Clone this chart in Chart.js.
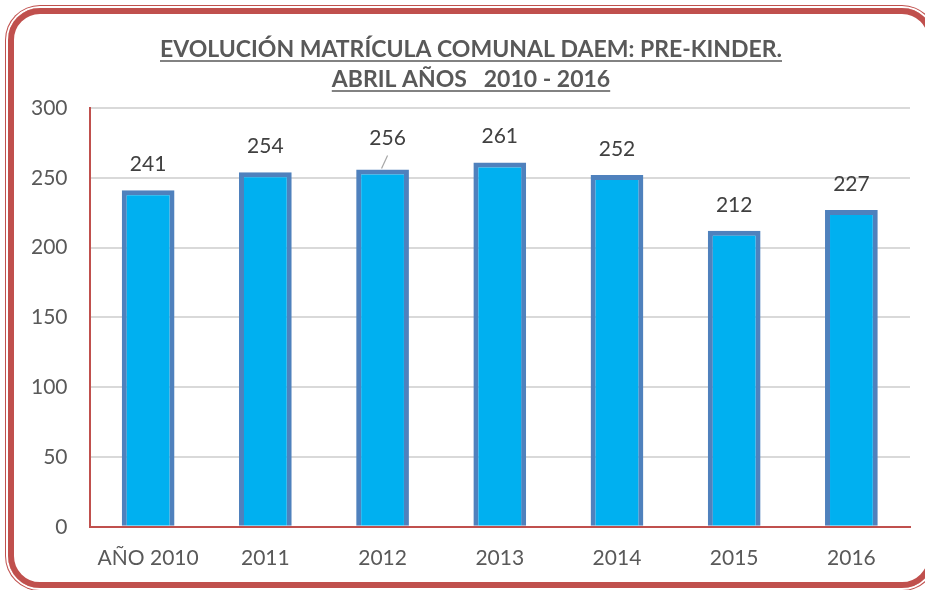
<!DOCTYPE html>
<html>
<head>
<meta charset="utf-8">
<script src="https://cdn.jsdelivr.net/npm/chart.js@4.4.1/dist/chart.umd.min.js"></script>
<style>
  html, body { margin: 0; padding: 0; background: #fff; overflow: hidden; }
  #wrap { position: relative; width: 925px; height: 590px; }
  #frame {
    position: absolute; left: 8px; top: 8px; width: 914px; height: 568px;
    border: 6px solid #C0504D; border-radius: 32px;
    box-shadow: 0 0 0 2px #fff, 0 0 0 3px #C0504D;
  }
  canvas { position: absolute; left: 0; top: 0; }
</style>
</head>
<body>
<div id="wrap">
  <div id="frame"></div>
  <canvas id="chart" width="925" height="590"></canvas>
</div>
<script>
// datos
const categories = ["AÑO 2010", "2011", "2012", "2013", "2014", "2015", "2016"];
const matricula = [241, 254, 256, 261, 252, 212, 227];
const yTicks = [0, 50, 100, 150, 200, 250, 300];
const titleLines = ["EVOLUCIÓN MATRÍCULA COMUNAL DAEM: PRE-KINDER.", "ABRIL AÑOS   2010 - 2016"];

const FONT = "Lato, 'Open Sans', sans-serif";

// titulo subrayado
const underlinedTitle = {
  id: 'underlinedTitle',
  afterDraw(chart) {
    const c = chart.ctx;
    c.save();
    c.font = "bold 23px " + FONT;
    c.fillStyle = '#595959';
    c.strokeStyle = '#595959';
    c.lineWidth = 1.5;
    c.textAlign = 'center';
    c.textBaseline = 'alphabetic';
    const cx = 471;
    const ys = [57, 87];
    titleLines.forEach((t, i) => {
      c.fillText(t, cx, ys[i]);
      const w = c.measureText(t).width;
      c.beginPath();
      c.moveTo(cx - w / 2, ys[i] + 4);
      c.lineTo(cx + w / 2, ys[i] + 4);
      c.stroke();
    });
    c.restore();
  }
};

// etiquetas de datos
const dataLabels = {
  id: 'dataLabels',
  afterDatasetsDraw(chart) {
    const c = chart.ctx;
    const meta = chart.getDatasetMeta(0);
    c.save();
    c.font = "21px " + FONT;
    c.fillStyle = '#404040';
    c.textAlign = 'center';
    c.textBaseline = 'middle';
    meta.data.forEach((bar, i) => {
      let x = bar.x;
      let y = bar.y - 26;
      if (i === 2) {
        // etiqueta con linea guia
        x = bar.x + 5;
        y = bar.y - 31;
        c.strokeStyle = '#A6A6A6';
        c.lineWidth = 1.2;
        c.beginPath();
        c.moveTo(bar.x + 5, bar.y - 14);
        c.lineTo(bar.x - 1, bar.y - 1);
        c.stroke();
      }
      c.fillText(matricula[i], x, y);
    });
    c.restore();
  }
};

const ctx = document.getElementById('chart').getContext('2d');
const chart = new Chart(ctx, {
  type: 'bar',
  data: {
    labels: categories,
    datasets: [{
      data: matricula,
      backgroundColor: '#00B0F0',
      borderColor: '#4F81BD',
      borderWidth: 5,
      barPercentage: 0.45,
      categoryPercentage: 1
    }]
  },
  options: {
    responsive: false,
    animation: false,
    layout: { padding: { top: 108, left: 9, right: 15, bottom: 0 } },
    plugins: { legend: { display: false }, tooltip: { enabled: false } },
    scales: {
      x: {
        grid: { display: false, drawTicks: false },
        border: { color: '#C0504D', width: 2 },
        ticks: { color: '#595959', font: { family: FONT, size: 21 }, padding: 19 }
      },
      y: {
        min: 0, max: 300,
        afterBuildTicks(axis) { axis.ticks = yTicks.map(v => ({ value: v })); },
        grid: { color: '#D9D9D9', lineWidth: 2, drawTicks: false },
        border: { color: '#C0504D', width: 2 },
        ticks: { color: '#595959', font: { family: FONT, size: 21 }, padding: 22 }
      }
    }
  },
  plugins: [underlinedTitle, dataLabels]
});
</script>
</body>
</html>
